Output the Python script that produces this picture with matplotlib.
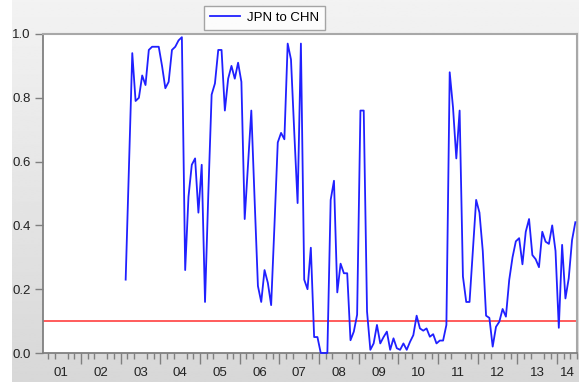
import numpy as np
import pandas as pd
import matplotlib
matplotlib.use("Agg")
import matplotlib.pyplot as plt

# ---- data -------------------------------------------------------------
start_month = "2001-01"
end_month = "2014-06"
first_obs = "2003-02"
series_name = "JPN to CHN"
threshold = 0.1

jpn_to_chn = [
    0.23, 0.58, 0.94, 0.79, 0.80, 0.87, 0.84, 0.95, 0.96, 0.96, 0.96,          # 2003M02-2003M12
    0.90, 0.83, 0.85, 0.95, 0.96, 0.98, 0.99, 0.26, 0.49, 0.59, 0.61, 0.44,    # 2004
    0.59, 0.16, 0.50, 0.81, 0.845, 0.95, 0.95, 0.76, 0.86, 0.90, 0.86, 0.91,   # 2005
    0.85, 0.42, 0.59, 0.76, 0.48, 0.21, 0.16, 0.26, 0.22, 0.15, 0.40, 0.66,    # 2006
    0.69, 0.67, 0.97, 0.92, 0.69, 0.47, 0.97, 0.23, 0.20, 0.33, 0.05, 0.05,    # 2007
    0.0, 0.0, 0.0, 0.48, 0.54, 0.19, 0.28, 0.25, 0.25, 0.04, 0.067, 0.12,      # 2008
    0.76, 0.76, 0.13, 0.01, 0.03, 0.088, 0.03, 0.05, 0.067, 0.01, 0.046, 0.015,  # 2009
    0.01, 0.03, 0.01, 0.035, 0.056, 0.117, 0.077, 0.07, 0.077, 0.051, 0.059, 0.03,  # 2010
    0.039, 0.039, 0.088, 0.88, 0.77, 0.61, 0.76, 0.24, 0.16, 0.16, 0.32, 0.48,  # 2011
    0.44, 0.32, 0.117, 0.11, 0.02, 0.082, 0.098, 0.138, 0.114, 0.229, 0.30, 0.35,  # 2012
    0.36, 0.278, 0.38, 0.42, 0.307, 0.294, 0.269, 0.38, 0.349, 0.342, 0.40, 0.32,  # 2013
    0.079, 0.339, 0.171, 0.234, 0.354, 0.41,                                    # 2014M01-M06
]
year_labels = ["01", "02", "03", "04", "05", "06", "07",
               "08", "09", "10", "11", "12", "13", "14"]
y_ticks = [0.0, 0.2, 0.4, 0.6, 0.8, 1.0]

# ---- prepare ----------------------------------------------------------
months = pd.period_range(start_month, end_month, freq="M")
series = pd.Series(np.nan, index=months)
obs_idx = pd.period_range(first_obs, periods=len(jpn_to_chn), freq="M")
series.loc[obs_idx] = jpn_to_chn
x = np.arange(len(months))
n = len(months)

plt.rcParams["font.family"] = ["Liberation Sans", "DejaVu Sans"]

W, H = 579, 387
fig = plt.figure(figsize=(W / 100, H / 100), dpi=100)
fig.patch.set_facecolor("white")

# gradient grey panel
bg = fig.add_axes([12 / W, 5 / H, 1 - 12 / W, 1 - 5 / H])
grad = np.linspace(0.95, 0.845, 256)[:, None]
bg.imshow(grad, cmap="gray", vmin=0, vmax=1, aspect="auto",
          extent=[0, 1, 0, 1], interpolation="bilinear")
bg.set_axis_off()
bg.set_zorder(-10)

L, R, T, B = 43, 577, 34, 353
ax = fig.add_axes([L / W, (H - B) / H, (R - L) / W, (B - T) / H])
ax.set_facecolor("white")

ax.plot(x, series.values, color="#2020ff", lw=1.3, label=series_name,
        clip_on=False, zorder=3)
ax.axhline(threshold, color="#ff4040", lw=1.2, zorder=2)

ax.set_xlim(0, n - 1)
ax.set_ylim(0, 1)

# y axis
ax.set_yticks(y_ticks)
ax.set_yticklabels([f"{v:.1f}" for v in y_ticks])
ax.tick_params(axis="y", direction="out", length=6, width=1,
               color="#808080", labelsize=9.5, pad=3, labelcolor="#222222")

# x axis: year labels (centre of observed months in each year)
years = months.year
label_pos = [x[years == (2001 + i)].mean() for i in range(len(year_labels))]
ax.set_xticks(label_pos)
ax.set_xticklabels(year_labels)
minor_pos = [p for p in np.arange(1.5, n, 2.0) if (p - 11.5) % 12 != 0]
ax.set_xticks(minor_pos, minor=True)
ax.tick_params(axis="x", which="major", length=0, pad=10, labelsize=9.5,
               labelcolor="#222222")
ax.tick_params(axis="x", which="minor", direction="out", length=4,
               width=1, color="#808080")

# long ticks at year boundaries
sec = ax.secondary_xaxis("bottom")
bound = [12 * k - 0.5 for k in range(1, 14)]
sec.set_xticks(bound)
sec.set_xticklabels([""] * len(bound))
sec.tick_params(axis="x", direction="out", length=8, width=1, color="#808080")
sec.spines["bottom"].set_visible(False)

for side in ["left", "bottom"]:
    ax.spines[side].set_color("#808080")
    ax.spines[side].set_linewidth(1.3)
for side in ["top", "right"]:
    ax.spines[side].set_color("#a8a8a8")
    ax.spines[side].set_linewidth(1.5)

leg = fig.legend(loc="center", bbox_to_anchor=(264.5 / W, (H - 18) / H),
                 fontsize=9.5, frameon=True, fancybox=False,
                 handlelength=2.3, borderpad=0.45, handletextpad=0.5)
leg.get_frame().set_edgecolor("#909090")
leg.get_frame().set_linewidth(1.0)

fig.savefig("out.png", dpi=100)
